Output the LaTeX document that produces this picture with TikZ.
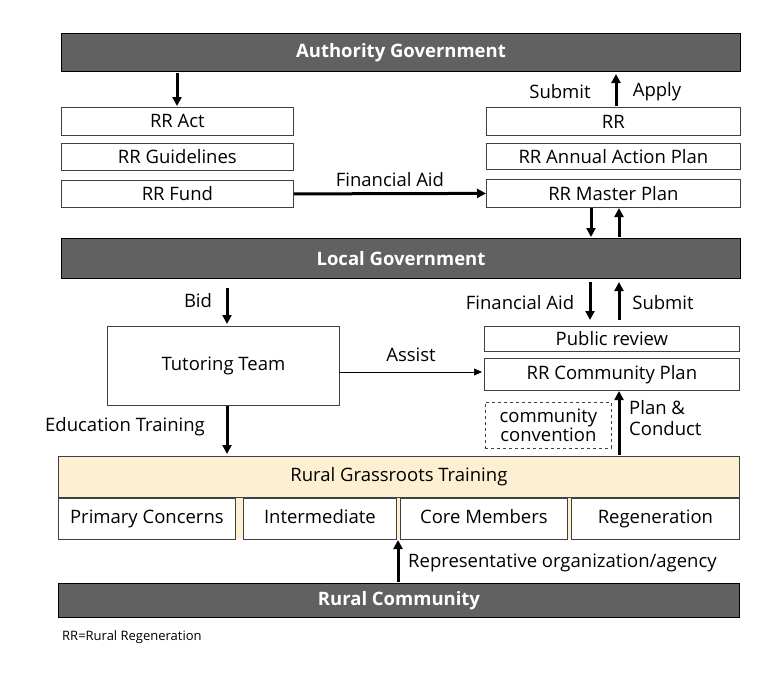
\documentclass[tikz,border=0pt]{standalone}
\usepackage{fontspec}
\setmainfont{Open Sans}
\usetikzlibrary{arrows.meta}
\begin{document}
\begin{tikzpicture}[x=1pt,y=-1pt,
  bar/.style={draw=black,fill=black!62,line width=1pt,text=white,font=\fontsize{18.5}{20}\selectfont\bfseries,anchor=north west,inner sep=0pt},
  box/.style={draw=black!75,fill=white,line width=0.8pt,font=\fontsize{18.5}{20}\selectfont,anchor=north west,inner sep=0pt},
  sub/.style={box,text height=13pt,text depth=4pt},
  lab/.style={font=\fontsize{18.5}{20}\selectfont},
  arr/.style={-{Triangle[length=9pt,width=9pt]},line width=3pt},
  thin/.style={-{Triangle[length=8pt,width=7pt]},line width=0.7pt}]
\useasboundingbox (0,0) rectangle (768,685);
% bars
\node[bar,minimum width=679,minimum height=38] (ag) at (61,33) {Authority Government};
\node[bar,minimum width=679,minimum height=40] (lg) at (61,238) {Local Government};
\node[bar,minimum width=681,minimum height=34] (rc) at (58,583) {Rural Community};
% left boxes
\node[box,minimum width=232,minimum height=28] (act) at (61,107) {RR Act};
\node[box,minimum width=232,minimum height=27] (gl) at (61,143) {RR Guidelines};
\node[box,minimum width=232,minimum height=27] (fund) at (61,180) {RR Fund};
% right boxes
\node[box,minimum width=254,minimum height=28] (rr) at (486,107) {RR};
\node[box,minimum width=254,minimum height=26] (ap) at (486,143) {RR Annual Action Plan};
\node[box,minimum width=254,minimum height=28] (mp) at (486,179) {RR Master Plan};
% middle
\node[box,minimum width=232,minimum height=79] (tt) at (107,326) {Tutoring Team};
\node[box,minimum width=255,minimum height=25] (pr) at (484,326) {Public review};
\node[box,minimum width=255,minimum height=32] (cp) at (484,358) {RR Community Plan};
\node[box,dashed,minimum width=126,minimum height=46,align=center] (cc) at (485,402) {community\\[-1pt]convention};
% grassroots
\fill[fill={rgb,255:red,253;green,240;blue,210}] (58,456) rectangle (739,539);
\node[box,fill={rgb,255:red,253;green,240;blue,210},minimum width=681,minimum height=41] (gr) at (58,456) {Rural Grassroots Training};
\node[sub,minimum width=177,minimum height=41] (s1) at (58,498) {Primary Concerns};
\node[sub,minimum width=153,minimum height=41] (s2) at (243,498) {Intermediate};
\node[sub,minimum width=167,minimum height=41] (s3) at (400,498) {Core Members};
\node[sub,minimum width=168,minimum height=41] (s4) at (571,498) {Regeneration};
% arrows
\coordinate (a1s) at (177,73); \coordinate (a1e) at (177,106);
\draw[arr] (a1s) -- (a1e);
\coordinate (a2s) at (616,106); \coordinate (a2e) at (616,74);
\draw[arr] (a2s) -- (a2e);
\node[lab] (sub1) at (560,92) {Submit};
\node[lab] (app1) at (657,92) {Apply};
\draw[arr] (fund.east) -- node[lab,above=2pt] {Financial Aid} (mp.west);
\coordinate (m1) at (591,208); \coordinate (m2) at (591,237);
\draw[arr] (m1) -- (m2);
\coordinate (m3) at (619,237); \coordinate (m4) at (619,208);
\draw[arr] (m3) -- (m4);
\coordinate (b1) at (227,288); \coordinate (b2) at (227,324);
\draw[arr] (b1) -- (b2);
\node[lab] (bid) at (198,301) {Bid};
\coordinate (f1) at (590,282); \coordinate (f2) at (590,320);
\draw[arr] (f1) -- (f2);
\coordinate (f3) at (619,320); \coordinate (f4) at (619,282);
\draw[arr] (f3) -- (f4);
\node[lab] (fa2) at (520,303) {Financial Aid};
\node[lab] (sub2) at (663,303) {Submit};
\coordinate (as1) at (339,372); \coordinate (as2) at (482,372);
\draw[thin] (as1) -- (as2);
\node[lab] (assist) at (411,355) {Assist};
\coordinate (p1) at (619,455); \coordinate (p2) at (619,391);
\draw[arr] (p1) -- (p2);
\node[lab,align=left,anchor=west,inner sep=0pt] (pc) at (629,418) {Plan \&\\[1pt]Conduct};
\coordinate (e1) at (227,406); \coordinate (e2) at (227,454);
\draw[arr] (e1) -- (e2);
\node[lab] (et) at (125,427) {Education Training};
\coordinate (r1) at (398,582); \coordinate (r2) at (398,540);
\draw[arr] (r1) -- (r2);
\node[lab,anchor=west,inner sep=0pt] (rep) at (408,563) {Representative organization/agency};
\node[font=\fontsize{13}{15}\selectfont,anchor=west,inner sep=0pt] (fn) at (62,637) {RR=Rural Regeneration};
\end{tikzpicture}
\end{document}
